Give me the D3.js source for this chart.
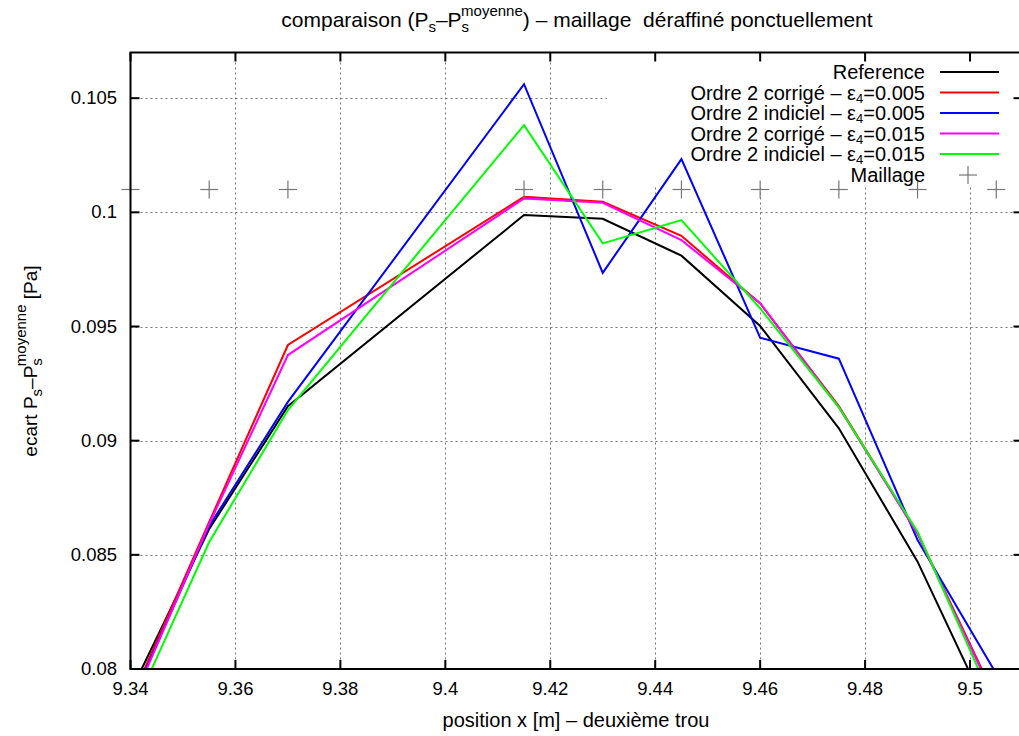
<!DOCTYPE html>
<html>
<head>
<meta charset="utf-8">
<script src="https://cdn.jsdelivr.net/npm/d3@7"></script>
<style>
  body { margin: 0; background: #fff; }
  svg { display: block; font-family: "Liberation Sans", Arial, sans-serif; }
  text { white-space: pre; }
</style>
</head>
<body>
<div id="chart"></div>
<script>
// mesh positions (x) and the curves sampled on them
const meshX = [9.34, 9.355, 9.37, 9.415, 9.43, 9.445, 9.46, 9.475, 9.49, 9.505];
const reference   = [0.07899, 0.08613, 0.09151, 0.09988, 0.09972, 0.09810, 0.09502, 0.09054, 0.08470, 0.07738];
const corrige005  = [0.07861, 0.08644, 0.09419, 0.10068, 0.10046, 0.09897, 0.09601, 0.09151, 0.08594, 0.07866];
const indiciel005 = [0.07847, 0.08626, 0.09170, 0.10561, 0.09735, 0.10233, 0.09451, 0.09359, 0.08565, 0.07979];
const corrige015  = [0.07835, 0.08635, 0.09375, 0.10061, 0.10042, 0.09878, 0.09602, 0.09146, 0.08591, 0.07855];
const indiciel015 = [0.07795, 0.08556, 0.09134, 0.10382, 0.09864, 0.09966, 0.09580, 0.09146, 0.08601, 0.07823];
const maillageY = 0.101;

const xTicks = [9.34, 9.36, 9.38, 9.4, 9.42, 9.44, 9.46, 9.48, 9.5];
const yTicks = [0.08, 0.085, 0.09, 0.095, 0.1, 0.105];

const series = [
    { name: "Reference", values: reference, color: "#000000" },
    { name: ["Ordre 2 corrigé – ε", "4", "=0.005"], values: corrige005, color: "#ff0000" },
    { name: ["Ordre 2 indiciel – ε", "4", "=0.005"], values: indiciel005, color: "#0000ff" },
    { name: ["Ordre 2 corrigé – ε", "4", "=0.015"], values: corrige015, color: "#ff00ff" },
    { name: ["Ordre 2 indiciel – ε", "4", "=0.015"], values: indiciel015, color: "#00ff00" }
];

const W = 1019, H = 736;
const pLeft = 130.5, pRight = 1022.5, pTop = 52.5, pBottom = 669;

const x = d3.scaleLinear().domain([9.34, 9.51]).range([pLeft, pRight]);
const y = d3.scaleLinear().domain([0.08, 0.107]).range([pBottom, pTop]);

const svg = d3.select("#chart").append("svg")
    .attr("width", W)
    .attr("height", H);

svg.append("defs").append("clipPath").attr("id", "plot")
    .append("rect")
    .attr("x", pLeft).attr("y", pTop)
    .attr("width", pRight - pLeft).attr("height", pBottom - pTop);

// grid
const grid = svg.append("g")
    .attr("stroke", "#777")
    .attr("stroke-width", 1)
    .attr("stroke-dasharray", "2,3");
grid.selectAll(".gx").data(xTicks.slice(1))
    .join("line")
    .attr("x1", d => Math.round(x(d)) + 0.5).attr("x2", d => Math.round(x(d)) + 0.5)
    .attr("y1", pTop).attr("y2", pBottom);
grid.selectAll(".gy").data(yTicks.slice(1))
    .join("line")
    .attr("x1", pLeft).attr("x2", pRight)
    .attr("y1", d => Math.round(y(d)) + 0.5).attr("y2", d => Math.round(y(d)) + 0.5);

// key background hides the grid behind it
svg.append("rect")
    .attr("x", 607).attr("y", pTop)
    .attr("width", pRight - 607).attr("height", 186 - pTop)
    .attr("fill", "#fff");

// curves
const line = d3.line()
    .x((d, i) => x(meshX[i]))
    .y(d => y(d));

svg.append("g")
    .attr("clip-path", "url(#plot)")
    .selectAll("path")
    .data(series)
    .join("path")
    .attr("d", d => line(d.values))
    .attr("fill", "none")
    .attr("stroke", d => d.color)
    .attr("stroke-width", 2);

// mesh crosses
const cross = 9;
const crossG = svg.append("g").attr("stroke", "#777").attr("stroke-width", 1.2);
meshX.forEach(v => {
    const cx = x(v), cy = y(maillageY);
    crossG.append("line").attr("x1", cx - cross).attr("x2", cx + cross).attr("y1", cy).attr("y2", cy);
    crossG.append("line").attr("x1", cx).attr("x2", cx).attr("y1", cy - cross).attr("y2", cy + cross);
});

// border + ticks
svg.append("rect")
    .attr("x", pLeft).attr("y", pTop)
    .attr("width", pRight - pLeft).attr("height", pBottom - pTop)
    .attr("fill", "none")
    .attr("stroke", "#000")
    .attr("stroke-width", 2);

const ticks = svg.append("g").attr("stroke", "#000").attr("stroke-width", 2);
xTicks.forEach(v => {
    ticks.append("line").attr("x1", x(v)).attr("x2", x(v)).attr("y1", pBottom).attr("y2", pBottom - 9);
    ticks.append("line").attr("x1", x(v)).attr("x2", x(v)).attr("y1", pTop).attr("y2", pTop + 9);
});
yTicks.forEach(v => {
    ticks.append("line").attr("x1", pLeft).attr("x2", pLeft + 9).attr("y1", y(v)).attr("y2", y(v));
    ticks.append("line").attr("x1", pRight).attr("x2", pRight - 9).attr("y1", y(v)).attr("y2", y(v));
});

const fmt = d => String(+d.toFixed(3));

svg.append("g").selectAll("text").data(xTicks)
    .join("text")
    .attr("x", d => x(d))
    .attr("y", 695)
    .attr("text-anchor", "middle")
    .attr("font-size", 18.5)
    .text(fmt);

svg.append("g").selectAll("text").data(yTicks)
    .join("text")
    .attr("x", 117)
    .attr("y", d => y(d) + 6)
    .attr("text-anchor", "end")
    .attr("font-size", 18.5)
    .text(fmt);

// title
const title = svg.append("text")
    .attr("x", 577).attr("y", 27)
    .attr("text-anchor", "middle")
    .attr("font-size", 21);
title.append("tspan").text("comparaison (P");
title.append("tspan").attr("dy", 5).attr("font-size", 15).text("s");
title.append("tspan").attr("dy", -5).text("–P");
title.append("tspan").attr("dy", 5).attr("font-size", 15).text("s");
title.append("tspan").attr("dy", -16).attr("font-size", 15).attr("dx", -8).text("moyenne");
title.append("tspan").attr("dy", 11).text(") – maillage  déraffiné ponctuellement");

// x label
svg.append("text")
    .attr("x", 576).attr("y", 727)
    .attr("text-anchor", "middle")
    .attr("font-size", 20)
    .text("position x [m] – deuxième trou");

// y label
const yl = svg.append("text")
    .attr("transform", "translate(37,361) rotate(-90)")
    .attr("text-anchor", "middle")
    .attr("font-size", 19);
yl.append("tspan").text("ecart P");
yl.append("tspan").attr("dy", 5).attr("font-size", 15).text("s");
yl.append("tspan").attr("dy", -5).text("–P");
yl.append("tspan").attr("dy", 5).attr("font-size", 15).text("s");
yl.append("tspan").attr("dy", -16).attr("font-size", 15).attr("dx", -8).text("moyenne");
yl.append("tspan").attr("dy", 11).text(" [Pa]");

// key
const keyRows = [72, 92.5, 113, 133.5, 154, 175];
const key = svg.append("g").attr("font-size", 20);
series.forEach((s, i) => {
    const ty = keyRows[i];
    const t = key.append("text")
        .attr("x", 925).attr("y", ty + 7)
        .attr("text-anchor", "end");
    if (typeof s.name === "string") {
        t.text(s.name);
    } else {
        t.append("tspan").text(s.name[0]);
        t.append("tspan").attr("dy", 3).attr("font-size", 13).text(s.name[1]);
        t.append("tspan").attr("dy", -3).text(s.name[2]);
    }
    key.append("line")
        .attr("x1", 940).attr("x2", 999)
        .attr("y1", ty).attr("y2", ty)
        .attr("stroke", s.color)
        .attr("stroke-width", 2);
});
key.append("text")
    .attr("x", 925).attr("y", keyRows[5] + 7)
    .attr("text-anchor", "end")
    .text("Maillage");
const kc = key.append("g").attr("stroke", "#777").attr("stroke-width", 1.2);
kc.append("line").attr("x1", 968 - cross).attr("x2", 968 + cross).attr("y1", keyRows[5]).attr("y2", keyRows[5]);
kc.append("line").attr("x1", 968).attr("x2", 968).attr("y1", keyRows[5] - cross).attr("y2", keyRows[5] + cross);
</script>
</body>
</html>
